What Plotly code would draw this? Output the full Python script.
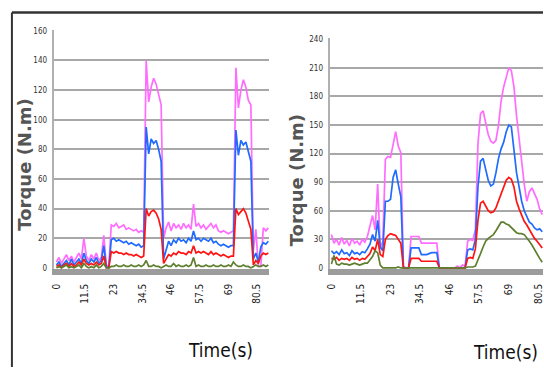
import plotly.graph_objects as go

# ---------------- data ----------------
time_left = list(range(0, 86))
mag_left = [4,7,3,6,9,5,8,4,7,10,6,20,8,5,9,6,10,5,7,22,2,1,
            29,28,30,27,28,29,26,27,26,25,26,24,25,24,
            140,112,122,128,124,116,110,
            20,27,31,25,30,27,29,26,30,27,29,26,43,28,30,27,29,26,28,30,27,29,25,24,25,24,23,24,25,
            135,108,120,127,122,113,110,
            12,26,1,1,27,25,27]
blue_left = [2,4,1,3,5,2,6,2,4,6,3,10,5,3,6,4,7,3,5,15,1,0,
             19,20,18,19,18,17,18,16,17,16,15,16,14,15,
             95,77,87,84,86,80,72,
             6,12,18,15,19,17,20,18,19,17,20,18,25,19,20,18,20,19,18,20,17,18,16,15,16,15,14,15,15,
             93,76,86,83,85,79,72,
             6,10,4,14,17,16,18]
red_left = [1,2,0,2,3,1,3,1,2,4,2,6,3,2,3,2,4,2,3,8,0,0,
            11,10,11,10,10,9,10,9,9,8,9,8,7,8,
            40,35,38,39,37,33,26,
            3,6,9,8,10,9,11,10,10,9,11,10,15,10,11,10,11,10,9,11,9,10,9,8,9,8,7,8,8,
            40,36,38,40,37,32,26,
            2,5,3,8,10,9,10]
green_left = [0,1,0,1,2,0,1,0,1,2,0,3,1,0,1,0,2,0,1,3,0,0,
              1,1,2,1,1,2,1,1,2,1,1,2,1,2,
              5,1,1,2,1,1,0,
              1,2,1,1,3,1,2,1,1,2,1,2,7,1,2,1,1,2,1,1,2,1,1,2,1,1,2,1,4,
              2,1,1,2,1,1,0,
              1,2,1,1,2,1,2]

time_right = list(range(0, 83))
mag_right = [35,26,30,24,32,25,29,23,31,26,28,24,30,27,
             33,45,55,40,88,20,28,
             114,117,116,128,143,128,121,
             2,0,0,
             33,33,33,33,
             26,26,26,26,26,26,26,
             0,0,0,0,0,0,0,2,0,3,2,
             28,30,29,
             40,130,162,165,152,140,133,131,134,150,175,190,200,210,207,190,160,135,108,88,70,80,84,78,72,62,56]
blue_right = [18,15,17,14,19,15,16,13,18,15,16,14,17,16,
              20,25,35,28,50,22,18,
              70,70,72,95,103,88,75,
              0,0,0,
              21,21,21,21,
              14,14,14,15,16,16,16,
              0,0,0,0,0,0,0,0,0,0,0,
              19,20,19,
              30,85,112,115,105,92,86,88,100,115,125,132,143,150,148,125,100,85,70,60,53,48,46,42,40,41,38]
red_right = [10,9,11,8,10,9,10,8,11,9,10,8,10,9,
             12,15,22,18,30,14,12,
             30,34,36,35,34,30,26,
             0,0,0,
             10,10,10,10,
             7,7,7,7,7,7,7,
             0,0,0,0,0,0,0,0,0,0,0,
             10,11,10,
             20,50,68,70,65,60,58,59,63,70,78,86,92,95,93,85,70,62,55,49,45,40,35,31,28,24,21]
green_right = [4,13,4,3,5,4,4,3,4,5,4,3,4,5,
               5,8,12,18,16,3,0,
               0,0,0,0,0,1,0,
               0,0,0,
               0,0,0,0,
               0,0,0,0,0,0,0,
               0,0,0,0,0,0,0,0,0,0,0,
               1,1,1,
               2,8,15,22,28,31,33,35,39,44,48,48,46,45,42,39,37,36,36,35,32,28,24,19,15,10,6]

x_tick_vals = [0, 11.5, 23, 34.5, 46, 57.5, 69, 80.5]
x_tick_text = ["0", "11.5", "23", "34.5", "46", "57.5", "69", "80.5"]
y_ticks_left = [0, 20, 40, 60, 80, 100, 120, 140, 160]
y_ticks_right = [0, 30, 60, 90, 120, 150, 180, 210, 240]

colors = {"mag": "#ff6cff", "blue": "#1f6bff", "red": "#ff1414", "green": "#5e7f2e"}

# ---------------- figure ----------------
W, H = 544, 371
fig = go.Figure()

def add_series(t, m, b, r, g, xa, ya):
    for vals, c in ((m, colors["mag"]), (b, colors["blue"]), (r, colors["red"]), (g, colors["green"])):
        fig.add_trace(go.Scatter(x=t, y=vals, mode="lines", xaxis=xa, yaxis=ya,
                                 line=dict(color=c, width=1.7), showlegend=False,
                                 hoverinfo="skip"))

add_series(time_left, mag_left, blue_left, red_left, green_left, "x", "y")
add_series(time_right, mag_right, blue_right, red_right, green_right, "x2", "y2")

COND = "DejaVu Sans Condensed, Liberation Sans Narrow, sans-serif"
tick_font_y = dict(family=COND, size=8, color="#333333")
tick_font_x = dict(family=COND, size=10, color="#222222")

def xaxis_cfg(domain, rng, anchor):
    return dict(domain=domain, range=rng, anchor=anchor, showgrid=False, zeroline=False,
                showline=True, linecolor="#9c9c9c", linewidth=6,
                tickmode="array", tickvals=x_tick_vals, ticktext=x_tick_text,
                tickangle=-90, ticks="", tickfont=tick_font_x, ticklabelstandoff=5,
                ticklabeloverflow="allow")

def yaxis_cfg(domain, rng, anchor, tickvals):
    return dict(domain=domain, range=rng, anchor=anchor, showgrid=True, gridcolor="#a8a8a8",
                gridwidth=2, zeroline=False, showline=True, linecolor="#b0b0b0", linewidth=1.5,
                tickmode="array", tickvals=tickvals, ticks="", tickfont=tick_font_y,
                ticklabelstandoff=4)

fig.update_layout(
    width=W, height=H,
    margin=dict(l=0, r=0, t=0, b=0),
    paper_bgcolor="white", plot_bgcolor="white",
    xaxis=xaxis_cfg([50 / W, 267 / W], [-0.8, 85.3], "y"),
    yaxis=yaxis_cfg([(H - 270.9) / H, (H - 27.6) / H], [-0.6, 160.5], "x", y_ticks_left),
    xaxis2=xaxis_cfg([329 / W, 1.0], [-0.4, 82.3], "y2"),
    yaxis2=yaxis_cfg([(H - 271.0) / H, (H - 36.0) / H], [-1, 241], "x2", y_ticks_right),
)

title_font = dict(family=COND, size=19, color="#111111")
ytitle_font = dict(family="DejaVu Sans, sans-serif", size=18, color="#555555")

annotations = [
    dict(text="Time(s)", x=218 / W, y=(H - 354) / H, xref="paper", yref="paper",
         showarrow=False, font=title_font, xanchor="center", yanchor="middle"),
    dict(text="Time(s)", x=506 / W, y=(H - 356) / H, xref="paper", yref="paper",
         showarrow=False, font=title_font, xanchor="center", yanchor="middle"),
    dict(text="<b>Torque (N.m)</b>", x=20 / W, y=(H - 165) / H, xref="paper", yref="paper",
         showarrow=False, font=ytitle_font, textangle=-90, xanchor="center", yanchor="middle"),
    dict(text="<b>Torque (N.m)</b>", x=295 / W, y=(H - 181) / H, xref="paper", yref="paper",
         showarrow=False, font=ytitle_font, textangle=-90, xanchor="center", yanchor="middle"),
]
fig.update_layout(annotations=annotations)

# frame lines (top and left border of the screenshot)
fig.add_shape(type="line", xref="paper", yref="paper", x0=7 / W, x1=1.0,
              y0=(H - 9.8) / H, y1=(H - 9.8) / H, line=dict(color="#333333", width=2.5))
fig.add_shape(type="line", xref="paper", yref="paper", x0=7 / W, x1=7 / W,
              y0=0, y1=(H - 9.8) / H, line=dict(color="#333333", width=2))

fig.write_html("out.html", config={"displayModeBar": False},
               post_script="document.body.style.margin='0';document.body.style.padding='0';")
